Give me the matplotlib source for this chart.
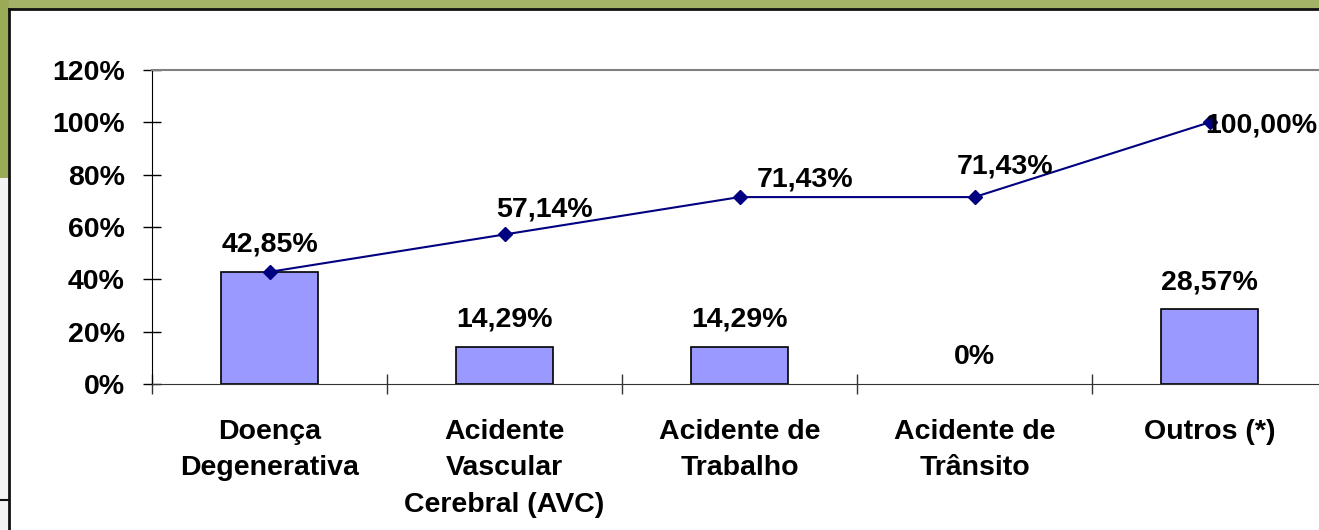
import numpy as np
import matplotlib.pyplot as plt
from matplotlib.patches import Rectangle
from matplotlib.lines import Line2D

plt.rcParams['font.family'] = ['Liberation Sans', 'DejaVu Sans']

categorias = ['Doença\nDegenerativa', 'Acidente\nVascular\nCerebral (AVC)',
              'Acidente de\nTrabalho', 'Acidente de\nTrânsito', 'Outros (*)']
percentual = [42.85, 14.29, 14.29, 0.0, 28.57]
acumulado = [42.85, 57.14, 71.43, 71.43, 100.00]
rotulos_barras = ['42,85%', '14,29%', '14,29%', '0%', '28,57%']
rotulos_linha = ['57,14%', '71,43%', '71,43%', '100,00%']

W, H = 1319, 530
fig = plt.figure(figsize=(W / 100, H / 100), dpi=100)

# fundo do slide (faixa verde e moldura)
fig.patches.append(Rectangle((0, 1 - 9 / H), 1, 9 / H, transform=fig.transFigure,
                             facecolor='#a3b267', edgecolor='none', zorder=0))
fig.patches.append(Rectangle((0, 1 - 178 / H), 9 / W, 178 / H, transform=fig.transFigure,
                             facecolor='#9aab58', edgecolor='none', zorder=0))
fig.patches.append(Rectangle((0, 0), 9 / W, 1 - 178 / H, transform=fig.transFigure,
                             facecolor='#f2f2f2', edgecolor='none', zorder=0))
fig.lines.append(Line2D([9 / W, 1], [1 - 9 / H, 1 - 9 / H], transform=fig.transFigure,
                        color='#111111', lw=2))
fig.lines.append(Line2D([9 / W, 9 / W], [0, 1 - 9 / H], transform=fig.transFigure,
                        color='#111111', lw=2))
fig.lines.append(Line2D([0, 9 / W], [30 / H, 30 / H], transform=fig.transFigure,
                        color='#111111', lw=1.5))

ax = fig.add_axes([152 / W, 146 / H, 1175 / W, 314 / H])

x = np.arange(len(categorias))
bordas = ['black' if v > 0 else 'none' for v in percentual]
ax.bar(x, np.array(percentual) / 100, width=0.41, color='#9999ff',
       edgecolor=bordas, linewidth=1.2, zorder=2)
ax.plot(x, np.array(acumulado) / 100, color='#000080', lw=1.5,
        marker='D', markersize=7, zorder=3)

ax.set_xlim(-0.5, len(categorias) - 0.5)
ax.set_ylim(0, 1.2)

fs = 20.5
for xi, v, s in zip(x, percentual, rotulos_barras):
    ax.annotate(s, (xi, v / 100), xytext=(0, 19.5), textcoords='offset points',
                ha='center', va='center', fontsize=fs, fontweight='bold')

desloc = [(29, 18), (47, 13), (22, 22), (37, -2)]
for xi, v, s, d in zip(x[1:], acumulado[1:], rotulos_linha, desloc):
    ax.annotate(s, (xi, v / 100), xytext=d, textcoords='offset points',
                ha='center', va='center', fontsize=fs, fontweight='bold')

ax.set_yticks(np.arange(0, 1.21, 0.2))
ax.set_yticklabels([f'{int(round(t * 100))}%' for t in np.arange(0, 1.21, 0.2)],
                   fontsize=fs, fontweight='bold')
ax.tick_params(axis='y', direction='inout', length=13, width=1, pad=13)

ax.set_xticks(x)
ax.set_xticklabels(categorias, fontsize=fs, fontweight='bold', linespacing=1.52,
                   va='top')
ax.tick_params(axis='x', which='major', length=0, pad=25)
ax.set_xticks(np.arange(-0.5, len(categorias), 1.0), minor=True)
ax.tick_params(axis='x', which='minor', direction='inout', length=14, width=1,
               color='#333333')

ax.spines['left'].set_color('black')
ax.spines['bottom'].set_color('#333333')
ax.spines['top'].set_color('#808080')
ax.spines['top'].set_linewidth(1.5)
ax.spines['right'].set_visible(False)

fig.savefig('out.png', dpi=100)
